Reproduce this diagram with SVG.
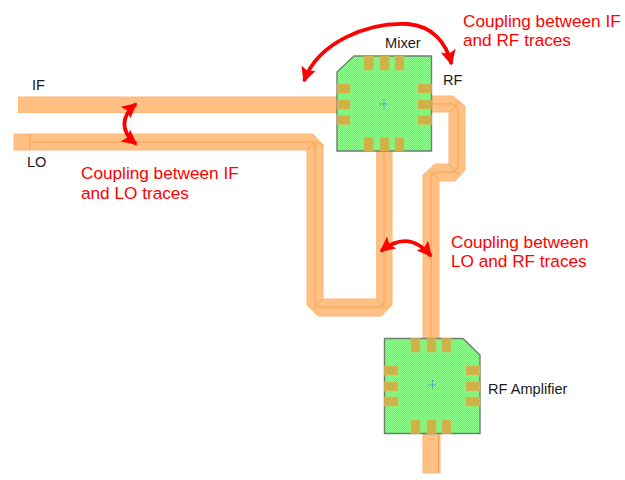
<svg xmlns="http://www.w3.org/2000/svg" width="625" height="480" viewBox="0 0 625 480">
<style>
.tr{fill:#ffc084;stroke:#ffb878;stroke-width:1}
.cl{fill:none;stroke:#ff9f4a;stroke-width:1}
.body{fill:url(#dither);stroke:#6e7f6e;stroke-width:1.4}
.pad{fill:url(#paddither);stroke:#e8b858;stroke-width:.5}
.cross{fill:none;stroke:#4a90c8;stroke-width:1;stroke-dasharray:2 1}
.lb{font-family:"Liberation Sans",Arial,sans-serif;font-size:14.600px;fill:#1a1a1a}
.rd{font-family:"Liberation Sans",Arial,sans-serif;font-size:17.200px;fill:#ff0000}
.ar{fill:none;stroke:#ff0000;stroke-width:3.800;marker-start:url(#ah);marker-end:url(#ah)}
</style>
<defs>
<pattern id="dither" width="2" height="2" patternUnits="userSpaceOnUse">
<rect width="2" height="2" fill="#64f864"/>
<rect width="1" height="1" fill="#8aff8a"/>
<rect x="1" y="1" width="1" height="1" fill="#8aff8a"/>
</pattern>
<pattern id="paddither" width="2" height="2" patternUnits="userSpaceOnUse">
<rect width="2" height="2" fill="#c4ae42"/>
<rect width="1" height="1" fill="#d4b84e"/>
<rect x="1" y="1" width="1" height="1" fill="#d4b84e"/>
</pattern>
<marker id="ah" viewBox="0 0 10 10" refX="9" refY="5" markerWidth="4" markerHeight="4" orient="auto-start-reverse">
<path d="M0 0L10 5L0 10L2 5Z" fill="#ff0000"/>
</marker>
</defs>
<rect width="625" height="480" fill="#ffffff"/>
<g id="traces">
<g id="trace-if"><rect class="tr" x="18.500" y="97" width="319" height="15.500"/></g>
<g id="trace-lo">
<path class="tr" d="M14 134H313L323 145V299H376.700V151H392V305L381 316H318L307 305V150H14Z"/>
<path class="cl" d="M30 134V150M30 142H312L315 145V305L319 307H380L384 304V151M307 150L315 142L323 145M323 299L313 309M376.700 299L386 309"/>
</g>
<g id="trace-rf">
<path class="tr" d="M431 96H453L465 106V170L455 181H439V338H423V175L435 164H449V112H431Z"/>
<path class="cl" d="M431 104H453L458 108V168L454 172H435L431 176V338M449 112L459 102M449 164L459 175M439 180L429 171"/>
</g>
<g id="trace-amp"><rect class="tr" x="423" y="433" width="17" height="40"/><path class="cl" d="M438.500 433V472"/></g>
</g>
<g id="mixer">
<path class="body" d="M354 56H431.500V151H337V72Z"/>
<g class="pads">
<rect class="pad" x="364" y="56" width="9.500" height="14"/><rect class="pad" x="380" y="56" width="9" height="14"/><rect class="pad" x="395" y="56" width="9" height="14"/>
<rect class="pad" x="364" y="137.500" width="9.500" height="13.500"/><rect class="pad" x="380" y="137.500" width="9" height="13.500"/><rect class="pad" x="395" y="137.500" width="9" height="13.500"/>
<rect class="pad" x="337" y="84" width="13" height="9"/><rect class="pad" x="337" y="100" width="13" height="9"/><rect class="pad" x="337" y="115.500" width="13" height="9"/>
<rect class="pad" x="418" y="84" width="13.500" height="9"/><rect class="pad" x="418" y="100" width="13.500" height="9"/><rect class="pad" x="418" y="115.500" width="13.500" height="9"/>
</g>
<path class="cross" d="M379.500 104H388.500M384 99V109"/>
<text class="lb" x="385" y="48">Mixer</text>
</g>
<g id="amplifier">
<path class="body" d="M384.500 338.500H463L480 355V433.500H384.500Z"/>
<g class="pads">
<rect class="pad" x="411" y="338.500" width="9" height="13.500"/><rect class="pad" x="427" y="338.500" width="9" height="13.500"/><rect class="pad" x="442" y="338.500" width="9" height="13.500"/>
<rect class="pad" x="411" y="420" width="9" height="13.500"/><rect class="pad" x="427" y="420" width="9" height="13.500"/><rect class="pad" x="442" y="420" width="9" height="13.500"/>
<rect class="pad" x="384.500" y="366" width="13.500" height="9"/><rect class="pad" x="384.500" y="382" width="13.500" height="9"/><rect class="pad" x="384.500" y="397" width="13.500" height="9"/>
<rect class="pad" x="466" y="366" width="14" height="9"/><rect class="pad" x="466" y="382" width="14" height="9"/><rect class="pad" x="466" y="397" width="14" height="9"/>
</g>
<path class="cross" d="M428 385H437M432.500 380V390"/>
<text class="lb" x="488" y="394">RF Amplifier</text>
</g>
<g id="port-labels">
<text class="lb" x="32" y="90">IF</text>
<text class="lb" x="27" y="167">LO</text>
<text class="lb" x="443" y="85">RF</text>
</g>
<g id="connectors">
<path class="ar" d="M304 81C318 42 368 22 408 24C432 26 446 42 451.500 64"/>
<path class="ar" d="M136 104C120 117 121 132 136 144"/>
<path class="ar" d="M381 251C400 236 416 238 431 256"/>
</g>
<g id="annotations">
<text class="rd"><tspan x="463" y="27">Coupling between IF</tspan><tspan x="463" y="46">and RF traces</tspan></text>
<text class="rd"><tspan x="81" y="179">Coupling between IF</tspan><tspan x="81" y="199">and LO traces</tspan></text>
<text class="rd"><tspan x="451" y="248">Coupling between</tspan><tspan x="451" y="267">LO and RF traces</tspan></text>
</g>
</svg>
